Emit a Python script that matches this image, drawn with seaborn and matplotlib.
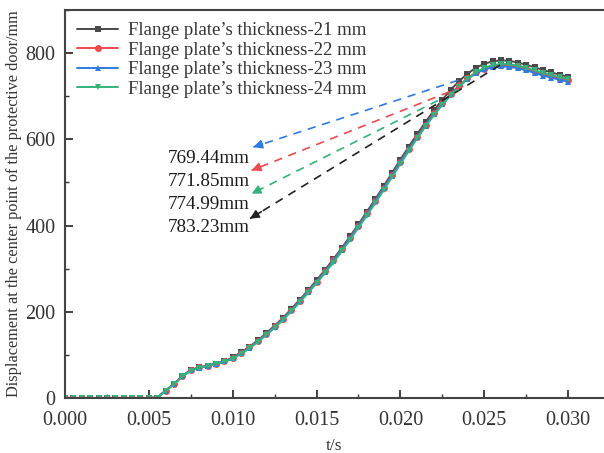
import matplotlib
matplotlib.use("Agg")
import matplotlib.pyplot as plt
import seaborn as sns
import pandas as pd
import numpy as np
from matplotlib.ticker import MultipleLocator

# ---------------- data ----------------
time_s = [0.0000, 0.0005, 0.0010, 0.0015, 0.0020, 0.0025, 0.0030, 0.0035, 0.0040, 0.0045,
          0.0050, 0.0055, 0.0060, 0.0065, 0.0070, 0.0075, 0.0080, 0.0085, 0.0090, 0.0095,
          0.0100, 0.0105, 0.0110, 0.0115, 0.0120, 0.0125, 0.0130, 0.0135, 0.0140, 0.0145,
          0.0150, 0.0155, 0.0160, 0.0165, 0.0170, 0.0175, 0.0180, 0.0185, 0.0190, 0.0195,
          0.0200, 0.0205, 0.0210, 0.0215, 0.0220, 0.0225, 0.0230, 0.0235, 0.0240, 0.0245,
          0.0250, 0.0255, 0.0260, 0.0265, 0.0270, 0.0275, 0.0280, 0.0285, 0.0290, 0.0295,
          0.0300]

zeros = [0, 0, 0, 0, 0, 0, 0, 0, 0, 0, 0, 1]

disp_21 = zeros + [17, 33, 51, 65, 71, 75, 80, 85, 94, 106,
                   119, 134, 150, 168, 186, 207, 228, 250, 273, 297,
                   322, 348, 375, 403, 432, 461, 491, 522, 553, 583,
                   612, 640, 667, 692, 715, 735, 752, 766, 775, 781,
                   783, 782, 778, 773, 767, 761, 755, 750, 745]
disp_22 = zeros + [17, 33, 51, 65, 71, 75, 80, 85, 93, 105,
                   118, 133, 149, 166, 184, 205, 226, 248, 270, 294,
                   319, 345, 372, 400, 428, 457, 487, 517, 548, 578,
                   606, 634, 660, 684, 706, 725, 742, 755, 764, 769,
                   772, 771, 768, 763, 757, 751, 746, 741, 737]
disp_23 = zeros + [17, 33, 50, 64, 70, 75, 80, 85, 92, 104,
                   117, 132, 148, 165, 183, 204, 225, 247, 269, 293,
                   318, 344, 371, 399, 427, 456, 486, 516, 547, 577,
                   605, 632, 658, 682, 704, 723, 740, 753, 762, 767,
                   769, 768, 765, 760, 754, 748, 743, 738, 734]
disp_24 = zeros + [16, 32, 50, 63, 70, 74, 79, 84, 91, 102,
                   115, 130, 146, 163, 181, 201, 222, 244, 266, 290,
                   314, 340, 367, 395, 423, 452, 482, 512, 543, 573,
                   602, 630, 656, 680, 702, 722, 740, 755, 766, 772,
                   775, 774, 771, 766, 760, 754, 749, 744, 740]

series_labels = ["Flange plate\u2019s thickness-21 mm",
                 "Flange plate\u2019s thickness-22 mm",
                 "Flange plate\u2019s thickness-23 mm",
                 "Flange plate\u2019s thickness-24 mm"]

peak_labels = ["769.44mm", "771.85mm", "774.99mm", "783.23mm"]
peak_colors = ["#2f7be0", "#ec4a4d", "#35b27a", "#222222"]
# arrow start (near the peak region) and end (near label) in data coords
arrow_start_t = [0.02345, 0.02375, 0.02224, 0.02594]
arrow_start_d = [737, 723, 690, 772]
arrow_end_t = [0.01123, 0.01113, 0.01113, 0.01103]
arrow_end_d = [582, 528, 474, 416]
label_t = [0.00614, 0.00614, 0.00614, 0.00614]
label_d = [556, 502, 449, 395]

# ---------------- build frame ----------------
rows = []
for lab, vals in zip(series_labels, [disp_21, disp_22, disp_23, disp_24]):
    for t, d in zip(time_s, vals):
        rows.append({"t": t, "d": d, "series": lab})
df = pd.DataFrame(rows)

sns.set_style("ticks")
plt.rcParams["font.family"] = ["Liberation Serif", "DejaVu Serif"]
plt.rcParams["mathtext.fontset"] = "stix"

fig = plt.figure(figsize=(6.04, 4.53), dpi=100)
ax = fig.add_axes([0.1076, 0.1214, 0.8924, 0.8566])

palette = {series_labels[0]: "#4a4a4a", series_labels[1]: "#ec4a4d",
           series_labels[2]: "#2f7be0", series_labels[3]: "#35b27a"}
markers = {series_labels[0]: "s", series_labels[1]: "o",
           series_labels[2]: "^", series_labels[3]: "v"}

sns.lineplot(data=df, x="t", y="d", hue="series", style="series",
             palette=palette, markers=markers, dashes=False,
             markersize=5, linewidth=1.4, markeredgewidth=0,
             hue_order=series_labels, style_order=series_labels, ax=ax)

# dashed annotation arrows
for c, ts, ds, te, de in zip(peak_colors, arrow_start_t, arrow_start_d, arrow_end_t, arrow_end_d):
    ax.plot([ts, te], [ds, de], linestyle=(0, (5, 4)), color=c, linewidth=1.2, zorder=5)
    vt = te + (ts - te) * 0.045
    vd = de + (ds - de) * 0.045
    ax.annotate("", xy=(te, de), xytext=(vt, vd),
                arrowprops=dict(arrowstyle="-|>", color=c, lw=1.2,
                                mutation_scale=13, shrinkA=0, shrinkB=0),
                zorder=6)

for txt, tx, ty in zip(peak_labels, label_t, label_d):
    ax.text(tx, ty, txt, fontsize=13.8, ha="left", va="center", color="#1a1a1a")

ax.set_xlim(0, 0.03214)
ax.set_ylim(0, 900)
ax.xaxis.set_major_locator(MultipleLocator(0.005))
ax.xaxis.set_minor_locator(MultipleLocator(0.0025))
ax.yaxis.set_major_locator(MultipleLocator(200))
ax.yaxis.set_minor_locator(MultipleLocator(100))
ax.set_xticks([0, 0.005, 0.010, 0.015, 0.020, 0.025, 0.030])
ax.set_xticklabels(["0.000", "0.005", "0.010", "0.015", "0.020", "0.025", "0.030"])
ax.tick_params(axis="both", which="major", direction="in", length=6, width=1.3,
               labelsize=14.5, colors="#333333")
ax.tick_params(axis="x", which="major", pad=9)
ax.tick_params(axis="y", which="major", pad=7)
ax.tick_params(axis="both", which="minor", direction="in", length=3, width=1.0,
               colors="#333333")

for side in ["left", "bottom", "top"]:
    ax.spines[side].set_linewidth(1.5)
    ax.spines[side].set_color("#444444")
ax.spines["right"].set_visible(False)

ax.set_xlabel("t/s", fontsize=12.5, color="#333333", labelpad=6)
ax.set_ylabel("Displacement at the center point of the protective door/mm",
              fontsize=11.7, color="#333333", labelpad=2)

leg = ax.legend(loc="upper left", frameon=False, fontsize=13.5,
                handlelength=2.2, labelspacing=0.13, handletextpad=0.5,
                borderaxespad=0.25, bbox_to_anchor=(0.0, 1.0))
for txt in leg.get_texts():
    txt.set_color("#333333")

fig.savefig("out.png", dpi=100)
